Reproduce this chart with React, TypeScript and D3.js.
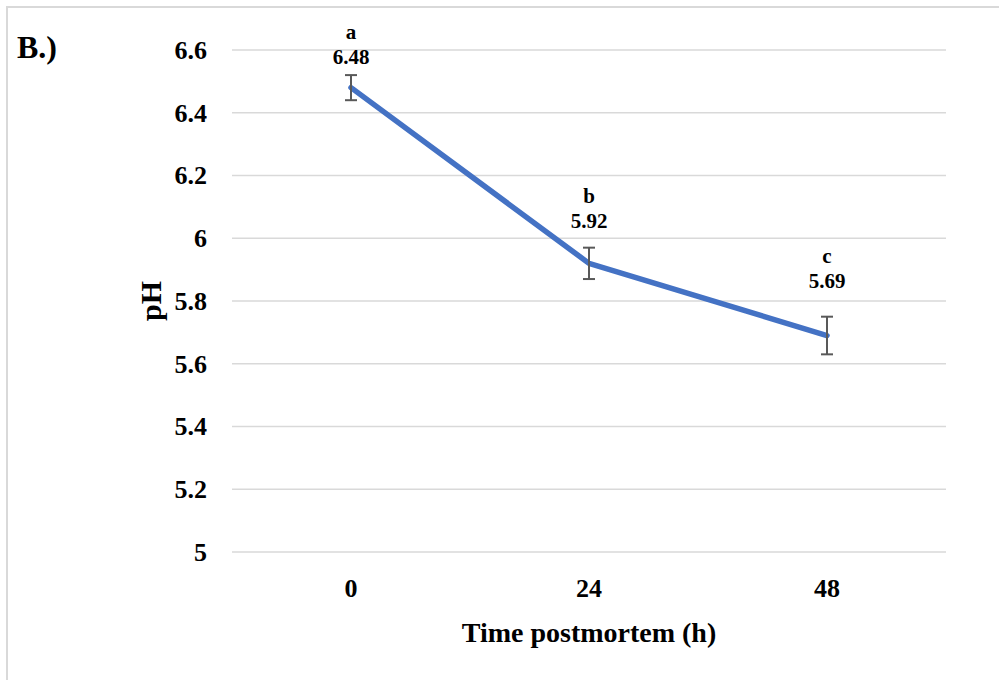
import * as d3 from "d3";

const w = 999;
const h = 680;
const margin = { top: 50, right: 53, bottom: 128, left: 232 };

const times = ["0", "24", "48"];
const phMeans = [6.48, 5.92, 5.69];
const phErrors = [0.04, 0.05, 0.06];
const letters = ["a", "b", "c"];
const yTicks = [5, 5.2, 5.4, 5.6, 5.8, 6, 6.2, 6.4, 6.6];
// how far above the error bar top each label sits (px), as placed in the original
const labelGap = [11, 20, 29];

const font = "'Liberation Serif', 'Times New Roman', serif";
const lineColor = "#4472C4";
const gridColor = "#d9d9d9";

const x = d3
  .scaleBand()
  .domain(times)
  .range([margin.left, w - margin.right]);

const y = d3
  .scaleLinear()
  .domain([5, 6.6])
  .range([h - margin.bottom, margin.top]);

const cx = (t: string) => (x(t) as number) + x.bandwidth() / 2;

const line = d3
  .line<number>()
  .x((_, i) => cx(times[i]))
  .y((d) => y(d));

function App() {
  return (
    <svg
      width={w}
      height={h}
      style={{ position: "absolute", left: 0, top: 0, background: "white" }}
      fontFamily={font}
      fontWeight="bold"
    >
      <rect x={7} y={7} width={w + 20} height={h + 20} fill="white" stroke={gridColor} strokeWidth={2} />

      <text x={17} y={58} fontSize={32}>
        B.)
      </text>

      {yTicks.map((t) => (
        <g key={t}>
          <line
            x1={margin.left}
            x2={w - margin.right}
            y1={y(t)}
            y2={y(t)}
            stroke={gridColor}
            strokeWidth={1.5}
          />
          <text x={207} y={y(t)} dy="0.34em" textAnchor="end" fontSize={26}>
            {d3.format("")(+t.toFixed(1))}
          </text>
        </g>
      ))}

      {times.map((t) => (
        <text key={t} x={cx(t)} y={597} textAnchor="middle" fontSize={26}>
          {t}
        </text>
      ))}

      <text x={(margin.left + w - margin.right) / 2} y={642} textAnchor="middle" fontSize={28}>
        Time postmortem (h)
      </text>

      <text
        transform={`translate(161,${y(5.8)}) rotate(-90)`}
        textAnchor="middle"
        fontSize={30}
      >
        pH
      </text>

      <path
        d={line(phMeans) as string}
        fill="none"
        stroke={lineColor}
        strokeWidth={5.5}
        strokeLinejoin="round"
        strokeLinecap="round"
      />

      {phMeans.map((m, i) => {
        const px = cx(times[i]);
        const top = y(m + phErrors[i]);
        const bot = y(m - phErrors[i]);
        return (
          <g key={i} stroke="#595959" strokeWidth={2}>
            <line x1={px} x2={px} y1={top} y2={bot} />
            <line x1={px - 6} x2={px + 6} y1={top} y2={top} />
            <line x1={px - 6} x2={px + 6} y1={bot} y2={bot} />
          </g>
        );
      })}

      {phMeans.map((m, i) => {
        const px = cx(times[i]);
        const base = y(m + phErrors[i]) - labelGap[i];
        return (
          <g key={"l" + i} textAnchor="middle" fontSize={21}>
            <text x={px} y={base - 25}>
              {letters[i]}
            </text>
            <text x={px} y={base}>
              {m.toFixed(2)}
            </text>
          </g>
        );
      })}
    </svg>
  );
}

export default App;
